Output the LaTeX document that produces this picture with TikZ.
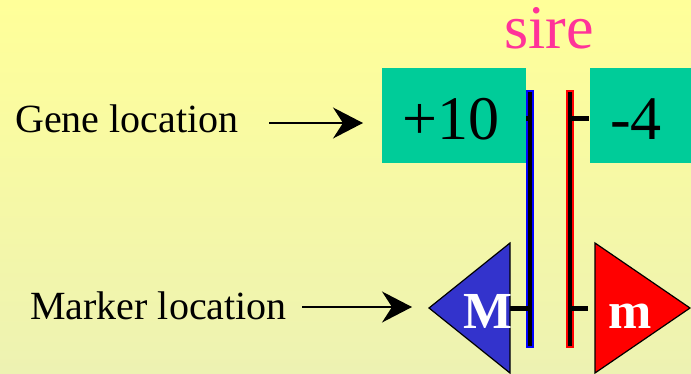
\documentclass[tikz,border=0pt]{standalone}
\usepackage{fontspec}
\setmainfont{Liberation Serif}
\usetikzlibrary{arrows.meta}
\definecolor{bgtop}{HTML}{FFFF99}
\definecolor{bgbot}{HTML}{EDF2B2}
\definecolor{boxgreen}{HTML}{00CC99}
\definecolor{sirepink}{HTML}{FF3399}
\definecolor{mblue}{HTML}{3333CC}
\begin{document}
\begin{tikzpicture}[x=1pt,y=-1pt,
  lbl/.style={anchor=base west, inner sep=0pt, font=\fontsize{40}{44}\selectfont},
  pointer/.style={line width=1.3pt, -{Stealth[length=30pt,width=31pt,inset=10pt]}},
  genebox/.style={fill=boxgreen, draw=none},
  genetext/.style={anchor=base, inner sep=0pt, font=\fontsize{62}{66}\selectfont},
  markertext/.style={anchor=base, inner sep=0pt, text=white, font=\fontsize{52}{56}\selectfont\bfseries},
  tick/.style={line width=5pt, black},
  chromo/.style={fill=black, line width=2pt}]
\shade[top color=bgtop, bottom color=bgbot] (0,0) rectangle (691,373);
\useasboundingbox (0,0) rectangle (691,373);
% title
\node[anchor=base, inner sep=0pt, text=sirepink, font=\fontsize{62}{66}\selectfont] (sire) at (549,48) {sire};
% labels and pointers
\node[lbl] (genelbl) at (15,132) {Gene location};
\node[lbl] (markerlbl) at (30,319) {Marker location};
\coordinate (g1) at (269,123);
\coordinate (g2) at (363,123);
\coordinate (m1) at (302,307);
\coordinate (m2) at (412,307);
\draw[pointer] (g1) -- (g2);
\draw[pointer] (m1) -- (m2);
% chromosomes
\draw[chromo, draw=blue] (527,91) rectangle (533,347);
\draw[chromo, draw=red] (567,91) rectangle (573,347);
% ticks
\draw[tick] (512,118) -- (530,118);
\draw[tick] (570,118) -- (589,118);
\draw[tick] (510,308) -- (530,308);
\draw[tick] (570,308) -- (588,308);
% gene boxes
\fill[genebox] (382,68) rectangle (526,163);
\fill[genebox] (590,68) rectangle (691,163);
\node[genetext] (plus) at (451,139) {+10};
\node[genetext] (minus) at (636,139) {-4};
% markers
\draw[fill=mblue, line width=1.2pt] (429,308) -- (510,243) -- (510,373) -- cycle;
\draw[fill=red, line width=1.2pt] (690,308) -- (595,243) -- (595,373) -- cycle;
\node[markertext] (M) at (488,328) {M};
\node[markertext] (m) at (630,328) {m};
\end{tikzpicture}
\end{document}
